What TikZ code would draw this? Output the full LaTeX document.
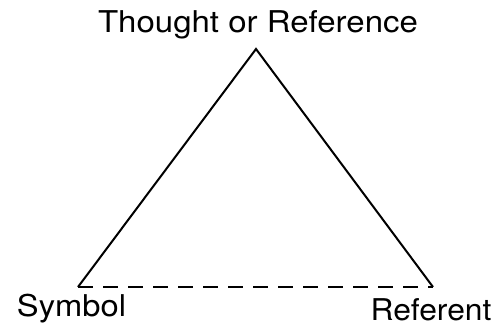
\documentclass[tikz,border=0pt]{standalone}
\usepackage{fontspec}
\setmainfont{TeX Gyre Heros}
\begin{document}
\begin{tikzpicture}[x=1pt,y=1pt,
  lbl/.style={inner sep=0pt, anchor=base, font=\fontsize{30}{33}\selectfont},
  edge/.style={line width=2pt, line join=miter}]
\useasboundingbox (0,0) rectangle (493,334);
\coordinate (T) at (256,285);
\coordinate (S) at (78,47);
\coordinate (R) at (433,47);
\draw[edge] (S) -- (T) -- (R);
\draw[edge, dash pattern=on 15pt off 10pt] (S) -- (R);
\node[lbl] (t) at (258,301) {\scalebox{1.10}[1]{Thought or Reference}};
\node[lbl] (s) at (71.5,17) {\scalebox{1.09}[1]{Symbol}};
\node[lbl] (r) at (431,13) {\scalebox{1.06}[1]{Referent}};
\end{tikzpicture}
\end{document}
